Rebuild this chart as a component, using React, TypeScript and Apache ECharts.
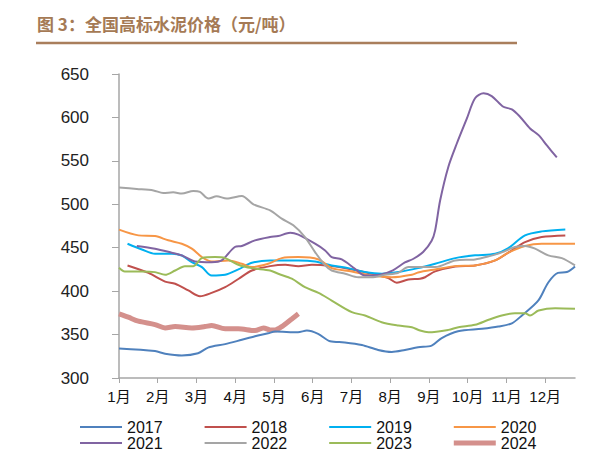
import React, { useEffect, useRef } from "react";
import * as echarts from "echarts";

const monthLabels = ["1月", "2月", "3月", "4月", "5月", "6月", "7月", "8月", "9月", "10月", "11月", "12月"];
const monthTicks = [0, 1, 2, 3, 4, 5, 6, 7, 8, 9, 10, 11];
const yearNames = ["2017", "2018", "2019", "2020", "2021", "2022", "2023", "2024"];
const yearColors = ["#4F81BD", "#C0504D", "#00B0F0", "#F79646", "#8064A2", "#A5A5A5", "#9BBB59", "#D4908C"];

// [month position (0 = 1月 start), price 元/吨]
const s2017 = [[0,334],[0.93,331],[1.19,328],[1.62,326],[2.04,328.5],[2.3,335],[2.74,339],[3.17,344],[3.51,348],[3.85,351.5],[4.03,353.5],[4.62,352.7],[4.85,354.6],[5.14,350.8],[5.45,342.3],[5.83,341],[6.27,338],[6.69,332.3],[7.04,330],[7.38,332.3],[7.72,335.4],[8.07,337.3],[8.33,346],[8.75,353.8],[9.37,356.6],[9.79,359.2],[10.14,363],[10.4,372],[10.82,389],[11.08,410],[11.33,421],[11.56,422],[11.77,428.5]];
const s2018 = [[0.22,429.6],[0.76,421],[1.19,411],[1.45,408.5],[1.79,400.8],[2.09,394.2],[2.39,398],[2.74,404.6],[3.08,414],[3.43,423.8],[3.9,428.8],[4.29,430.4],[4.63,428.8],[4.98,430.4],[5.49,428.8],[6.01,425],[6.52,420],[6.95,415],[7.17,409.7],[7.47,413.5],[7.77,414.3],[7.9,416],[8.16,422.7],[8.68,428.5],[9.19,429.6],[9.71,435.4],[10.14,447],[10.48,456.5],[10.91,462.3],[11.52,464.2]];
const s2019 = [[0.22,454.6],[0.59,448],[0.93,443],[1.36,443],[1.62,441],[1.88,433.4],[2.14,427.7],[2.39,418],[2.74,418.9],[3.08,425],[3.43,432.7],[3.9,435.4],[4.63,435.4],[5.06,434.2],[5.49,429.6],[5.92,426.5],[6.35,422],[6.78,420],[7.21,422],[7.72,426.5],[8.16,431.5],[8.68,438],[9.19,441.2],[9.71,443],[10.05,449.6],[10.48,464.2],[10.91,468.8],[11.52,471]];
const s2020 = [[0,470.8],[0.5,464.2],[0.93,463.4],[1.27,458.5],[1.62,454.6],[1.88,448.9],[2.14,439.2],[2.39,434.2],[2.82,435.4],[3.17,431.5],[3.43,427.7],[3.85,431.5],[4.2,438],[4.63,439.2],[5.15,436.5],[5.49,426.5],[6.01,422.7],[6.52,418],[7.04,416],[7.56,418.9],[7.72,421.5],[8.16,425],[8.68,428.8],[9.19,429.6],[9.71,435.4],[10.05,444.3],[10.48,452],[10.91,454.6],[11.77,454.6]];
const s2021 = [[0.46,452],[0.93,448.9],[1.36,444.3],[1.62,441.2],[1.96,434.2],[2.39,433.4],[2.65,435.4],[2.99,450.8],[3.17,452],[3.51,458.5],[3.9,462.3],[4.11,463.4],[4.42,467.3],[4.63,465],[5.06,454.6],[5.32,446.9],[5.49,439.2],[5.75,436.5],[6.09,425.8],[6.35,418],[6.74,419],[7.07,424],[7.38,433],[7.59,437],[7.85,445],[8.07,458],[8.16,470],[8.29,504.6],[8.5,543],[8.72,570],[8.98,598.9],[9.19,622],[9.41,627.7],[9.62,624.6],[9.92,612.3],[10.14,609.3],[10.35,600.8],[10.61,587.3],[10.83,579.6],[11.04,568],[11.3,553.9]];
const s2022 = [[0,519.3],[0.46,517.7],[0.89,516],[1.14,513],[1.4,513.8],[1.62,512.3],[1.92,515.4],[2.09,514.2],[2.31,506.6],[2.52,509.2],[2.78,506.6],[3.17,509.6],[3.47,500],[3.9,493],[4.2,483.5],[4.5,475.8],[4.8,462.3],[5.06,445],[5.32,429.6],[5.49,423.8],[5.84,420],[6.18,416],[6.52,416],[6.87,418.9],[7.21,421.2],[7.47,427.7],[8.16,427.7],[8.68,435.4],[9.19,436.5],[9.54,440],[9.88,444.7],[10.22,450.8],[10.48,452],[10.74,448.9],[11.08,441.2],[11.43,438],[11.77,429.6]];
const s2023 = [[0,427],[0.15,422.7],[0.59,422.7],[0.93,421.9],[1.19,418.9],[1.45,423.8],[1.7,428.8],[1.92,428.8],[2.14,438],[2.48,439.2],[2.74,438],[3.08,430.4],[3.43,426.5],[3.9,423.8],[4.11,420],[4.46,414.3],[4.8,404.6],[5.15,398],[5.49,389.2],[6.01,375.8],[6.35,372],[6.78,364.2],[7.21,360.4],[7.56,358.5],[7.77,354.6],[7.99,352.7],[8.5,355.4],[8.76,358.5],[9.19,361.2],[9.54,367],[9.88,372],[10.22,374.6],[10.48,374.6],[10.61,372],[10.83,377.7],[11.26,380.4],[11.77,379.7]];
const s2024 = [[0,373.9],[0.24,370],[0.5,365.4],[0.93,361.5],[1.19,357.7],[1.45,359.2],[1.88,357.7],[2.22,359.2],[2.39,360.4],[2.74,356.6],[3.08,356.6],[3.51,354.6],[3.73,357.7],[3.9,355.4],[4.03,355.4],[4.24,360.4],[4.46,368],[4.63,373.9]];

const seriesData = [s2017, s2018, s2019, s2020, s2021, s2022, s2023, s2024];
const yTicks = { min: 300, max: 650, interval: 50 };
const titleText = "图 3：全国高标水泥价格（元/吨）";

export default function App() {
  const ref = useRef<HTMLDivElement>(null);
  useEffect(() => {
    if (!ref.current) return;
    const chart = echarts.init(ref.current, null, { renderer: "svg" });
    const font = "'Liberation Sans', 'Noto Sans CJK SC', sans-serif";
    const legendCommon = {
      orient: "horizontal",
      left: 80,
      padding: 0,
      itemWidth: 42,
      itemHeight: 16,
      itemGap: 42,
      textStyle: { fontSize: 16, color: "#111", fontFamily: font },
    };
    const legendItem = (name: string, i: number) => ({
      name,
      icon: i === 7 ? "path://M0 0H42V5H0Z" : "path://M0 0H42V2H0Z",
      itemStyle: { color: yearColors[i] },
    });
    chart.setOption({
      animation: false,
      backgroundColor: "#fff",
      graphic: [
        {
          type: "text",
          left: 37,
          top: 15,
          style: {
            text: titleText,
            fontSize: 17,
            fontWeight: "bold",
            fontFamily: "'Noto Sans CJK SC', sans-serif",
            fill: "#A57A55",
          },
        },
        {
          type: "line",
          shape: { x1: 36, y1: 43, x2: 517, y2: 43 },
          style: { stroke: "#A97E5C", lineWidth: 2.5 },
        },
      ],
      legend: [
        { ...legendCommon, top: 419, data: yearNames.slice(0, 4).map((n, i) => legendItem(n, i)) },
        { ...legendCommon, top: 435, data: yearNames.slice(4, 8).map((n, i) => legendItem(n, i + 4)) },
      ],
      grid: { left: 119, right: 37, top: 74, bottom: 91 },
      xAxis: {
        type: "value",
        min: 0,
        max: 11.77,
        splitLine: { show: false },
        axisLine: { show: true, lineStyle: { color: "#A6A6A6", width: 1.5 } },
        axisTick: { show: true, length: 5, lineStyle: { color: "#A6A6A6" }, customValues: monthTicks },
        axisLabel: {
          customValues: monthTicks,
          formatter: (v: number) => monthLabels[Math.round(v)] ?? "",
          fontSize: 15,
          color: "#111",
          margin: 11,
          fontFamily: font,
        },
      },
      yAxis: {
        type: "value",
        min: yTicks.min,
        max: yTicks.max,
        interval: yTicks.interval,
        splitLine: { show: false },
        axisLine: { show: true, lineStyle: { color: "#A6A6A6", width: 1.5 } },
        axisTick: { show: true, length: 7, lineStyle: { color: "#A6A6A6" } },
        axisLabel: { fontSize: 17, color: "#222", margin: 30, fontFamily: font },
      },
      series: yearNames.map((name, i) => ({
        name,
        type: "line",
        data: seriesData[i],
        symbol: "none",
        smooth: 0.3,
        color: yearColors[i],
        lineStyle: { width: i === 7 ? 5 : 2, color: yearColors[i] },
        z: i === 7 ? 1 : 2,
      })),
    });
    return () => chart.dispose();
  }, []);
  return <div ref={ref} style={{ width: 612, height: 469, margin: -8 }} />;
}
